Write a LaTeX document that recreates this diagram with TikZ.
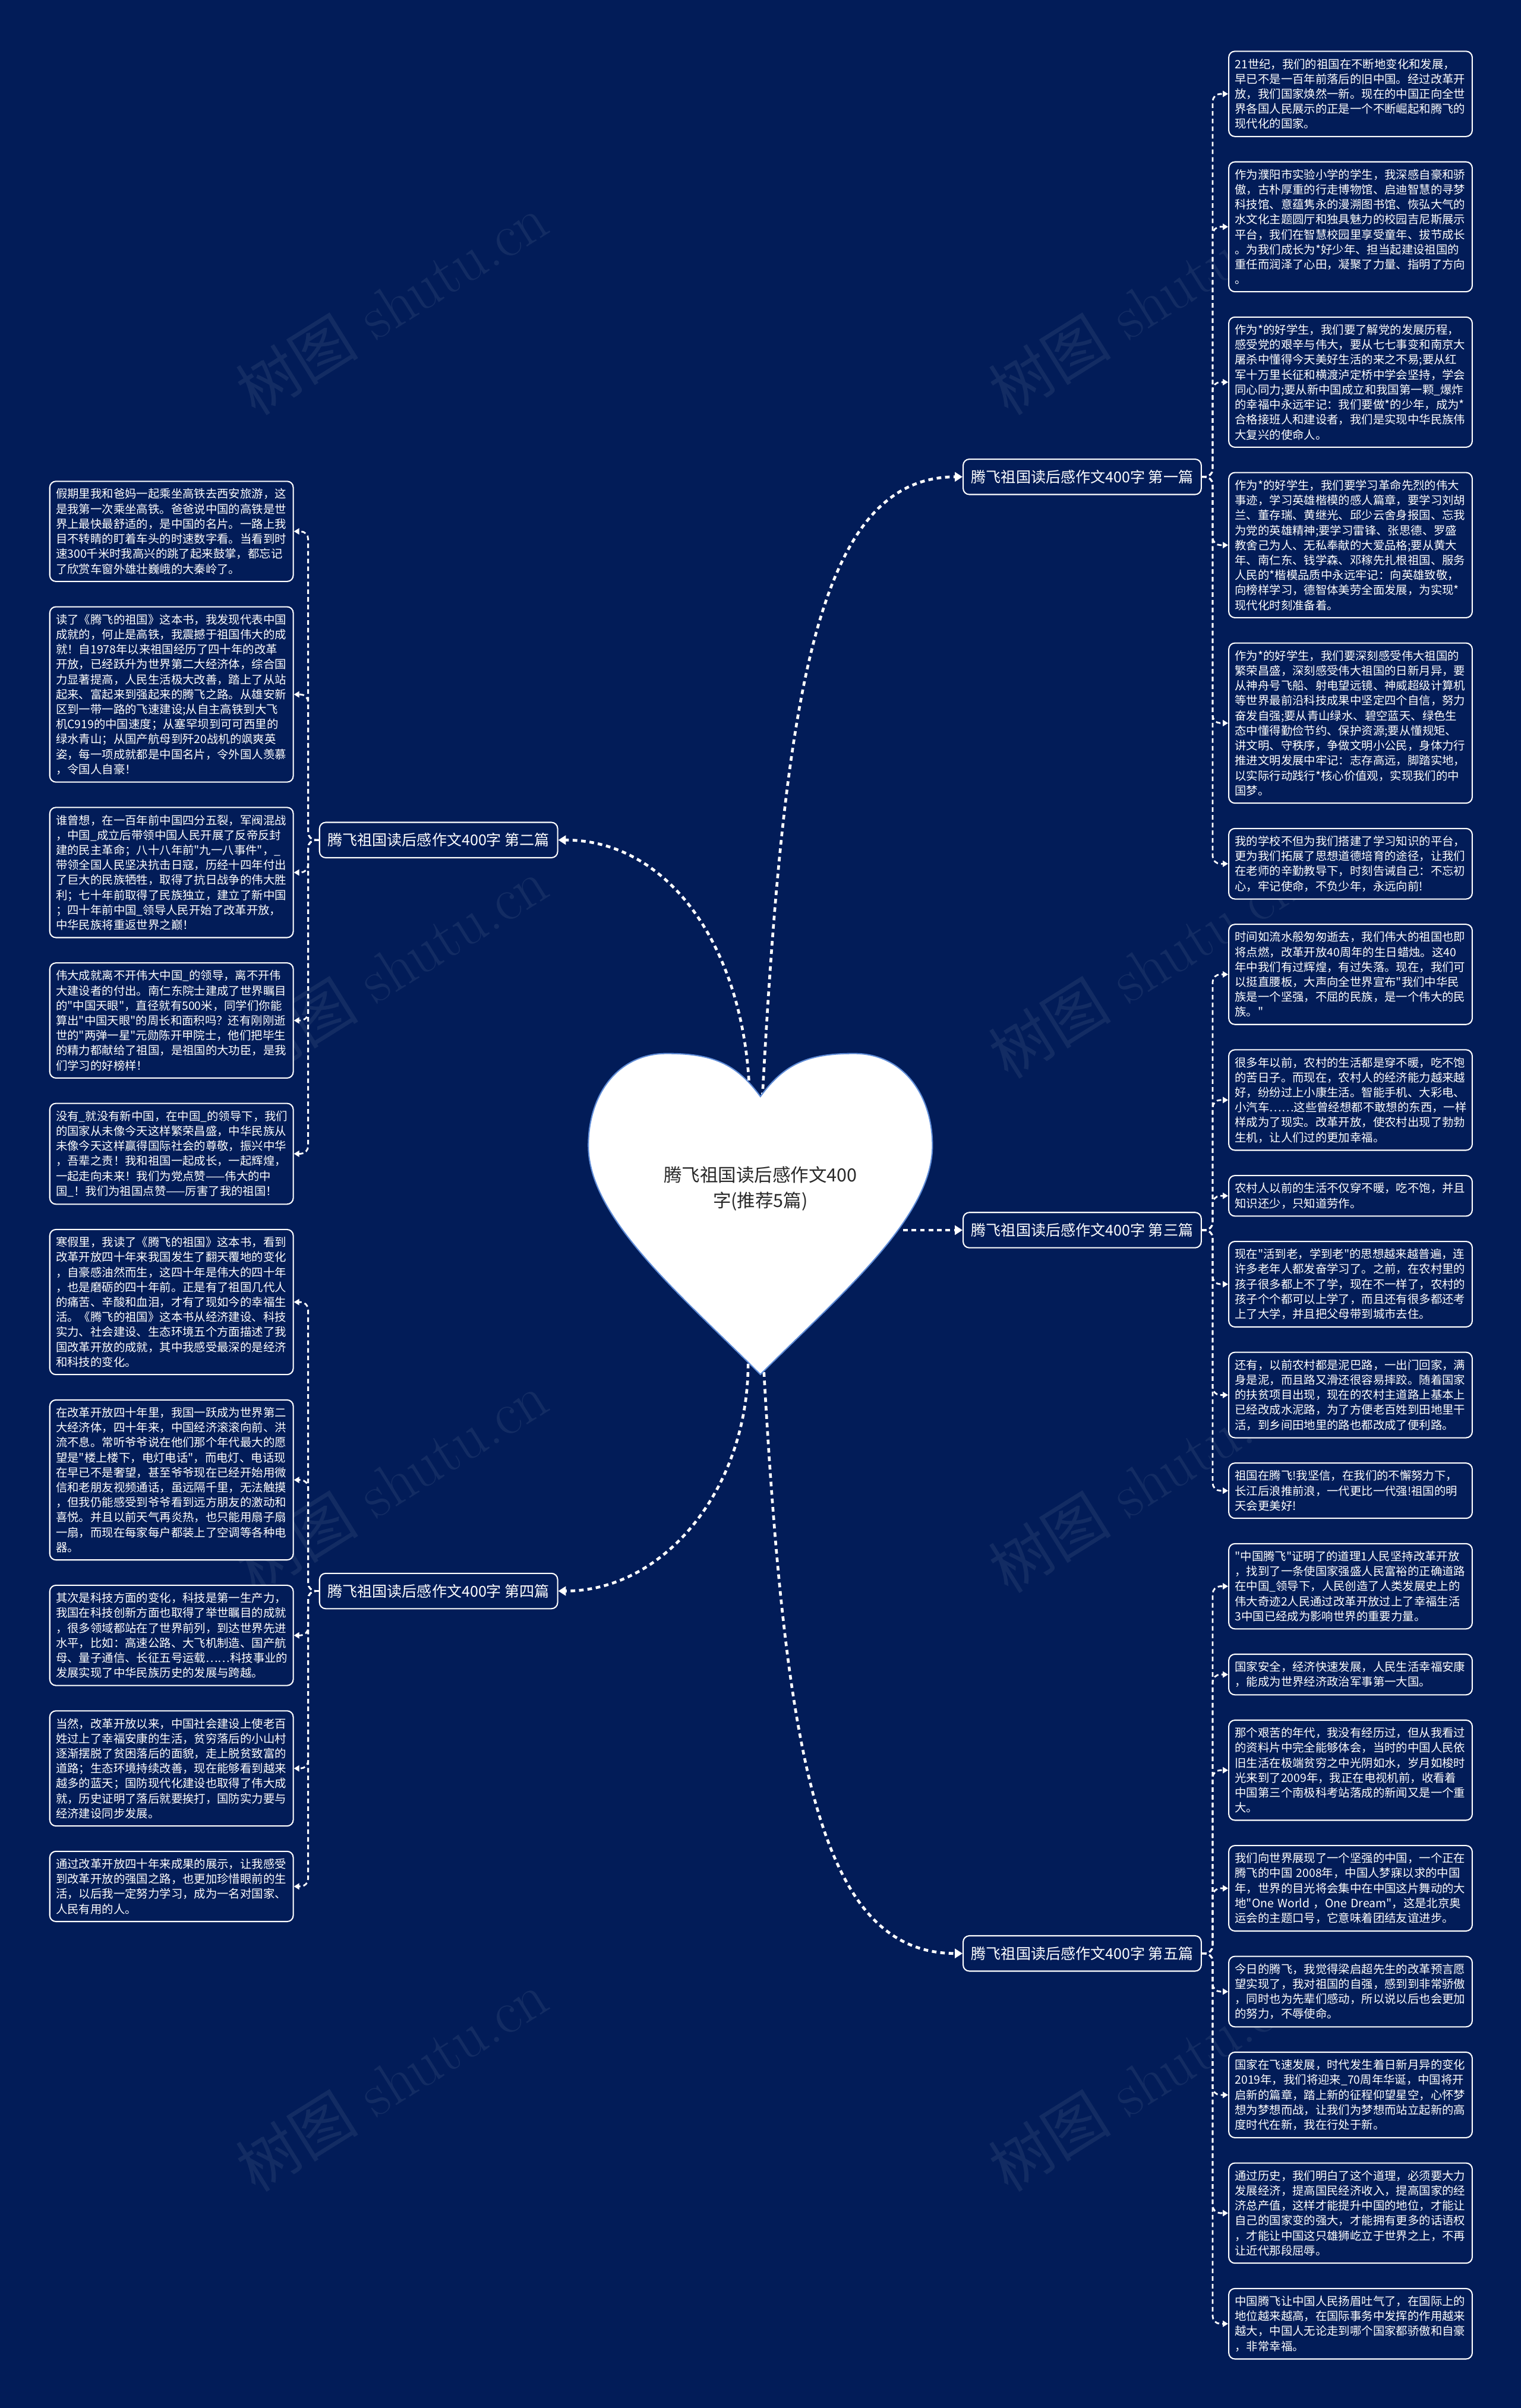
\documentclass[tikz,border=0pt]{standalone}
\usepackage{fontspec}
\newfontfamily\cjk{Noto Sans CJK SC}
\usetikzlibrary{positioning,arrows.meta,calc}
\definecolor{nightblue}{RGB}{2,28,88}
\definecolor{heartedge}{RGB}{95,140,215}
\definecolor{inkgray}{RGB}{40,40,40}

\begin{document}
\begin{tikzpicture}[x=1pt, y=-1pt, node distance=15.7pt,
    leaf/.style={rectangle, draw=white, line width=0.8pt, fill=nightblue, rounded corners=4pt, text=white, text width=150.5pt, inner xsep=4pt, inner ysep=4.75pt, align=left, font=\cjk\fontsize{7.5}{9.75}\selectfont},
    branch/.style={rectangle, draw=white, line width=0.8pt, fill=nightblue, rounded corners=4pt, text=white, minimum width=155pt, minimum height=23pt, inner xsep=5pt, font=\cjk\fontsize{9.7}{11}\selectfont},
    stem/.style={white, line width=1.8pt, dash pattern=on 3pt off 2.5pt, -{Triangle[length=5pt,width=6pt]}},
    twig/.style={white, line width=1.1pt, dash pattern=on 3pt off 2pt, rounded corners=5pt, -{Triangle[length=3.5pt,width=4pt]}},
    wmark/.style={white, opacity=0.07, rotate=32, font=\fontsize{40}{40}\selectfont}]

    \useasboundingbox (0,0) rectangle (990,1568);
    \fill[nightblue] (0,0) rectangle (990,1568);

    % watermark
    \foreach \wy in {198,630,965,1355} {
        \node[wmark] at (255,\wy) {{\cjk 树图} shutu.cn};
        \node[wmark] at (745,\wy) {{\cjk 树图} shutu.cn};
    }

    % right column
    \node[leaf, anchor=north west] (r1) at (799.5,33) {21世纪，我们的祖国在不断地变化和发展，\\早已不是一百年前落后的旧中国。经过改革开\\放，我们国家焕然一新。现在的中国正向全世\\界各国人民展示的正是一个不断崛起和腾飞的\\现代化的国家。};
    \node[leaf, below=of r1] (r2) {作为濮阳市实验小学的学生，我深感自豪和骄\\傲，古朴厚重的行走博物馆、启迪智慧的寻梦\\科技馆、意蕴隽永的漫溯图书馆、恢弘大气的\\水文化主题圆厅和独具魅力的校园吉尼斯展示\\平台，我们在智慧校园里享受童年、拔节成长\\。为我们成长为*好少年、担当起建设祖国的\\重任而润泽了心田，凝聚了力量、指明了方向\\。};
    \node[leaf, below=of r2] (r3) {作为*的好学生，我们要了解党的发展历程，\\感受党的艰辛与伟大，要从七七事变和南京大\\屠杀中懂得今天美好生活的来之不易;要从红\\军十万里长征和横渡泸定桥中学会坚持，学会\\同心同力;要从新中国成立和我国第一颗\_爆炸\\的幸福中永远牢记：我们要做*的少年，成为*\\合格接班人和建设者，我们是实现中华民族伟\\大复兴的使命人。};
    \node[leaf, below=of r3] (r4) {作为*的好学生，我们要学习革命先烈的伟大\\事迹，学习英雄楷模的感人篇章，要学习刘胡\\兰、董存瑞、黄继光、邱少云舍身报国、忘我\\为党的英雄精神;要学习雷锋、张思德、罗盛\\教舍己为人、无私奉献的大爱品格;要从黄大\\年、南仁东、钱学森、邓稼先扎根祖国、服务\\人民的*楷模品质中永远牢记：向英雄致敬，\\向榜样学习，德智体美劳全面发展，为实现*\\现代化时刻准备着。};
    \node[leaf, below=of r4] (r5) {作为*的好学生，我们要深刻感受伟大祖国的\\繁荣昌盛，深刻感受伟大祖国的日新月异，要\\从神舟号飞船、射电望远镜、神威超级计算机\\等世界最前沿科技成果中坚定四个自信，努力\\奋发自强;要从青山绿水、碧空蓝天、绿色生\\态中懂得勤俭节约、保护资源;要从懂规矩、\\讲文明、守秩序，争做文明小公民，身体力行\\推进文明发展中牢记：志存高远，脚踏实地，\\以实际行动践行*核心价值观，实现我们的中\\国梦。};
    \node[leaf, below=of r5] (r6) {我的学校不但为我们搭建了学习知识的平台，\\更为我们拓展了思想道德培育的途径，让我们\\在老师的辛勤教导下，时刻告诫自己：不忘初\\心，牢记使命，不负少年，永远向前!};
    \node[leaf, below=of r6] (r7) {时间如流水般匆匆逝去，我们伟大的祖国也即\\将点燃，改革开放40周年的生日蜡烛。这40\\年中我们有过辉煌，有过失落。现在，我们可\\以挺直腰板，大声向全世界宣布"我们中华民\\族是一个坚强，不屈的民族，是一个伟大的民\\族。"};
    \node[leaf, below=of r7] (r8) {很多年以前，农村的生活都是穿不暖，吃不饱\\的苦日子。而现在，农村人的经济能力越来越\\好，纷纷过上小康生活。智能手机、大彩电、\\小汽车……这些曾经想都不敢想的东西，一样\\样成为了现实。改革开放，使农村出现了勃勃\\生机，让人们过的更加幸福。};
    \node[leaf, below=of r8] (r9) {农村人以前的生活不仅穿不暖，吃不饱，并且\\知识还少，只知道劳作。};
    \node[leaf, below=of r9] (r10) {现在"活到老，学到老"的思想越来越普遍，连\\许多老年人都发奋学习了。之前，在农村里的\\孩子很多都上不了学，现在不一样了，农村的\\孩子个个都可以上学了，而且还有很多都还考\\上了大学，并且把父母带到城市去住。};
    \node[leaf, below=of r10] (r11) {还有，以前农村都是泥巴路，一出门回家，满\\身是泥，而且路又滑还很容易摔跤。随着国家\\的扶贫项目出现，现在的农村主道路上基本上\\已经改成水泥路，为了方便老百姓到田地里干\\活，到乡间田地里的路也都改成了便利路。};
    \node[leaf, below=of r11] (r12) {祖国在腾飞!我坚信，在我们的不懈努力下，\\长江后浪推前浪，一代更比一代强!祖国的明\\天会更美好!};
    \node[leaf, below=of r12] (r13) {"中国腾飞"证明了的道理1人民坚持改革开放\\，找到了一条使国家强盛人民富裕的正确道路\\在中国\_领导下，人民创造了人类发展史上的\\伟大奇迹2人民通过改革开放过上了幸福生活\\3中国已经成为影响世界的重要力量。};
    \node[leaf, below=of r13] (r14) {国家安全，经济快速发展，人民生活幸福安康\\，能成为世界经济政治军事第一大国。};
    \node[leaf, below=of r14] (r15) {那个艰苦的年代，我没有经历过，但从我看过\\的资料片中完全能够体会，当时的中国人民依\\旧生活在极端贫穷之中光阴如水，岁月如梭时\\光来到了2009年，我正在电视机前，收看着\\中国第三个南极科考站落成的新闻又是一个重\\大。};
    \node[leaf, below=of r15] (r16) {我们向世界展现了一个坚强的中国，一个正在\\腾飞的中国~2008年，中国人梦寐以求的中国\\年，世界的目光将会集中在中国这片舞动的大\\地"One~World~，One~Dream"，这是北京奥\\运会的主题口号，它意味着团结友谊进步。};
    \node[leaf, below=of r16] (r17) {今日的腾飞，我觉得梁启超先生的改革预言愿\\望实现了，我对祖国的自强，感到到非常骄傲\\，同时也为先辈们感动，所以说以后也会更加\\的努力，不辱使命。};
    \node[leaf, below=of r17] (r18) {国家在飞速发展，时代发生着日新月异的变化\\2019年，我们将迎来\_70周年华诞，中国将开\\启新的篇章，踏上新的征程仰望星空，心怀梦\\想为梦想而战，让我们为梦想而站立起新的高\\度时代在新，我在行处于新。};
    \node[leaf, below=of r18] (r19) {通过历史，我们明白了这个道理，必须要大力\\发展经济，提高国民经济收入，提高国家的经\\济总产值，这样才能提升中国的地位，才能让\\自己的国家变的强大，才能拥有更多的话语权\\，才能让中国这只雄狮屹立于世界之上，不再\\让近代那段屈辱。};
    \node[leaf, below=of r19] (r20) {中国腾飞让中国人民扬眉吐气了，在国际上的\\地位越来越高，在国际事务中发挥的作用越来\\越大，中国人无论走到哪个国家都骄傲和自豪\\，非常幸福。};

    % left column
    \node[leaf, anchor=north west] (l1) at (32,313) {假期里我和爸妈一起乘坐高铁去西安旅游，这\\是我第一次乘坐高铁。爸爸说中国的高铁是世\\界上最快最舒适的，是中国的名片。一路上我\\目不转睛的盯着车头的时速数字看。当看到时\\速300千米时我高兴的跳了起来鼓掌，都忘记\\了欣赏车窗外雄壮巍峨的大秦岭了。};
    \node[leaf, below=of l1] (l2) {读了《腾飞的祖国》这本书，我发现代表中国\\成就的，何止是高铁，我震撼于祖国伟大的成\\就！自1978年以来祖国经历了四十年的改革\\开放，已经跃升为世界第二大经济体，综合国\\力显著提高，人民生活极大改善，踏上了从站\\起来、富起来到强起来的腾飞之路。从雄安新\\区到一带一路的飞速建设;从自主高铁到大飞\\机C919的中国速度；从塞罕坝到可可西里的\\绿水青山；从国产航母到歼20战机的飒爽英\\姿，每一项成就都是中国名片，令外国人羡慕\\，令国人自豪！};
    \node[leaf, below=of l2] (l3) {谁曾想，在一百年前中国四分五裂，军阀混战\\，中国\_成立后带领中国人民开展了反帝反封\\建的民主革命；八十八年前"九一八事件"，\_\\带领全国人民坚决抗击日寇，历经十四年付出\\了巨大的民族牺牲，取得了抗日战争的伟大胜\\利；七十年前取得了民族独立，建立了新中国\\；四十年前中国\_领导人民开始了改革开放，\\中华民族将重返世界之巅！};
    \node[leaf, below=of l3] (l4) {伟大成就离不开伟大中国\_的领导，离不开伟\\大建设者的付出。南仁东院士建成了世界瞩目\\的"中国天眼"，直径就有500米，同学们你能\\算出"中国天眼"的周长和面积吗？还有刚刚逝\\世的"两弹一星"元勋陈开甲院士，他们把毕生\\的精力都献给了祖国，是祖国的大功臣，是我\\们学习的好榜样！};
    \node[leaf, below=of l4] (l5) {没有\_就没有新中国，在中国\_的领导下，我们\\的国家从未像今天这样繁荣昌盛，中华民族从\\未像今天这样赢得国际社会的尊敬，振兴中华\\，吾辈之责！我和祖国一起成长，一起辉煌，\\一起走向未来！我们为党点赞——伟大的中\\国\_！我们为祖国点赞——厉害了我的祖国！};
    \node[leaf, below=of l5] (l6) {寒假里，我读了《腾飞的祖国》这本书，看到\\改革开放四十年来我国发生了翻天覆地的变化\\，自豪感油然而生，这四十年是伟大的四十年\\，也是磨砺的四十年前。正是有了祖国几代人\\的痛苦、辛酸和血泪，才有了现如今的幸福生\\活。《腾飞的祖国》这本书从经济建设、科技\\实力、社会建设、生态环境五个方面描述了我\\国改革开放的成就，其中我感受最深的是经济\\和科技的变化。};
    \node[leaf, below=of l6] (l7) {在改革开放四十年里，我国一跃成为世界第二\\大经济体，四十年来，中国经济滚滚向前、洪\\流不息。常听爷爷说在他们那个年代最大的愿\\望是"楼上楼下，电灯电话"，而电灯、电话现\\在早已不是奢望，甚至爷爷现在已经开始用微\\信和老朋友视频通话，虽远隔千里，无法触摸\\，但我仍能感受到爷爷看到远方朋友的激动和\\喜悦。并且以前天气再炎热，也只能用扇子扇\\一扇，而现在每家每户都装上了空调等各种电\\器。};
    \node[leaf, below=of l7] (l8) {其次是科技方面的变化，科技是第一生产力，\\我国在科技创新方面也取得了举世瞩目的成就\\，很多领域都站在了世界前列，到达世界先进\\水平，比如：高速公路、大飞机制造、国产航\\母、量子通信、长征五号运载……科技事业的\\发展实现了中华民族历史的发展与跨越。};
    \node[leaf, below=of l8] (l9) {当然，改革开放以来，中国社会建设上使老百\\姓过上了幸福安康的生活，贫穷落后的小山村\\逐渐摆脱了贫困落后的面貌，走上脱贫致富的\\道路；生态环境持续改善，现在能够看到越来\\越多的蓝天；国防现代化建设也取得了伟大成\\就，历史证明了落后就要挨打，国防实力要与\\经济建设同步发展。};
    \node[leaf, below=of l9] (l10) {通过改革开放四十年来成果的展示，让我感受\\到改革开放的强国之路，也更加珍惜眼前的生\\活，以后我一定努力学习，成为一名对国家、\\人民有用的人。};

    % branches
    \node[branch] (b1) at (704.5,310.5) {腾飞祖国读后感作文400字 第一篇};
    \node[branch] (b2) at (285.5,547) {腾飞祖国读后感作文400字 第二篇};
    \node[branch] (b3) at (704.5,801) {腾飞祖国读后感作文400字 第三篇};
    \node[branch] (b4) at (285.5,1036) {腾飞祖国读后感作文400字 第四篇};
    \node[branch] (b5) at (704.5,1272) {腾飞祖国读后感作文400字 第五篇};

    \foreach \i in {1,...,6} \draw[twig] (b1.east) -- ++(7,0) |- (r\i.west);
    \foreach \i in {7,...,12} \draw[twig] (b3.east) -- ++(7,0) |- (r\i.west);
    \foreach \i in {13,...,20} \draw[twig] (b5.east) -- ++(7,0) |- (r\i.west);
    \foreach \i in {1,...,5} \draw[twig] (b2.west) -- ++(-7,0) |- (l\i.east);
    \foreach \i in {6,...,10} \draw[twig] (b4.west) -- ++(-7,0) |- (l\i.east);

    % heart and its connectors
    \coordinate (hn1) at (496,720);
    \coordinate (hn2) at (488,720);
    \coordinate (hs1) at (487,888);
    \coordinate (hs2) at (497,888);
    \coordinate (he) at (588,801);
    \draw[stem] (hn1) .. controls +(14,-262) and +(-96,0) .. (b1.west);
    \draw[stem] (hn2) .. controls +(0,-95) and +(76,0) .. (b2.east);
    \draw[stem] (he) -- (b3.west);
    \draw[stem] (hs1) .. controls +(0,80) and +(70,0) .. (b4.east);
    \draw[stem] (hs2) .. controls +(14,250) and +(-95,0) .. (b5.west);

    \filldraw[fill=white, draw=heartedge, line width=0.8pt] (495,714) .. controls (479,692) and (463,686) .. (434,686) .. controls (402,686) and (383,713) .. (383,746) .. controls (383,793) and (443,843) .. (495,895) .. controls (547,843) and (607,793) .. (607,746) .. controls (607,713) and (588,686) .. (556,686) .. controls (527,686) and (511,692) .. (495,714) -- cycle;
    \node[text=inkgray, align=center, font=\cjk\fontsize{11.8}{16.6}\selectfont] (heart) at (495,774) {腾飞祖国读后感作文400\\字(推荐5篇)};
\end{tikzpicture}
\end{document}
